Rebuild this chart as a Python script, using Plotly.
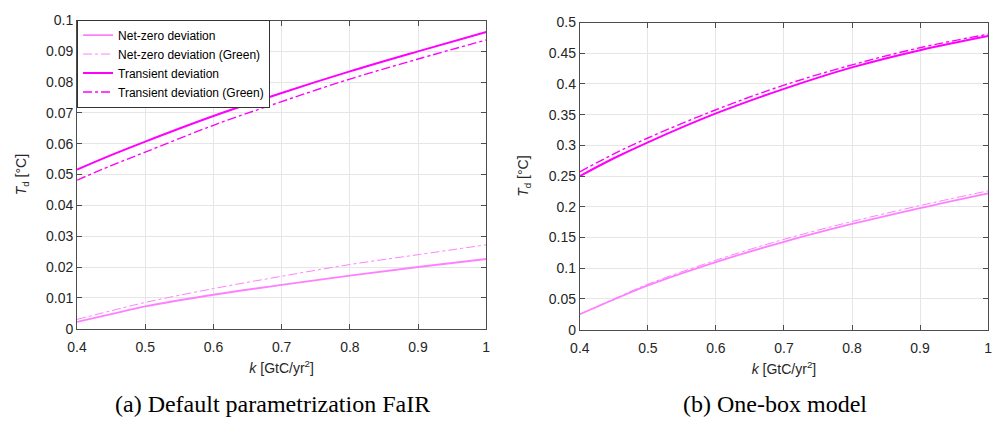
import plotly.graph_objects as go

k = [0.4, 0.45, 0.5, 0.6, 0.7, 0.8, 0.9, 1.0]

# (a) Default parametrization FaIR
a_netzero = [0.0022, 0.0047, 0.0072, 0.0110, 0.0142, 0.0172, 0.0200, 0.0226]
a_netzero_green = [0.0030, 0.0058, 0.0085, 0.0130, 0.0170, 0.0208, 0.0240, 0.0272]
a_transient = [0.0516, 0.0563, 0.0607, 0.0690, 0.0765, 0.0835, 0.0900, 0.0963]
a_transient_green = [0.0482, 0.0529, 0.0573, 0.0660, 0.0737, 0.0810, 0.0875, 0.0937]

# (b) One-box model
b_netzero = [0.025, 0.049, 0.072, 0.110, 0.143, 0.172, 0.198, 0.222]
b_netzero_green = [0.025, 0.050, 0.074, 0.113, 0.147, 0.176, 0.202, 0.226]
b_transient = [0.250, 0.279, 0.305, 0.352, 0.392, 0.427, 0.455, 0.478]
b_transient_green = [0.257, 0.286, 0.312, 0.358, 0.398, 0.431, 0.459, 0.481]

names = ["Net-zero deviation", "Net-zero deviation (Green)",
         "Transient deviation", "Transient deviation (Green)"]
xticks = [0.4, 0.5, 0.6, 0.7, 0.8, 0.9, 1]
xticklabels = ["0.4", "0.5", "0.6", "0.7", "0.8", "0.9", "1"]
a_yticks = [0, 0.01, 0.02, 0.03, 0.04, 0.05, 0.06, 0.07, 0.08, 0.09, 0.1]
a_yticklabels = ["0", "0.01", "0.02", "0.03", "0.04", "0.05", "0.06", "0.07", "0.08", "0.09", "0.1"]
b_yticks = [0, 0.05, 0.1, 0.15, 0.2, 0.25, 0.3, 0.35, 0.4, 0.45, 0.5]
b_yticklabels = ["0", "0.05", "0.1", "0.15", "0.2", "0.25", "0.3", "0.35", "0.4", "0.45", "0.5"]
captions = ["(a) Default parametrization FaIR", "(b) One-box model"]

light = "#FF80FF"
strong = "#FF00FF"
styles = [
    dict(color=light, width=1.8, dash="solid"),
    dict(color=light, width=1.0, dash="dashdot"),
    dict(color=strong, width=2.0, dash="solid"),
    dict(color=strong, width=1.4, dash="dashdot"),
]

fig = go.Figure()
for i, ys in enumerate([a_netzero, a_netzero_green, a_transient, a_transient_green]):
    fig.add_trace(go.Scatter(x=k, y=ys, mode="lines", name=names[i], line=styles[i],
                             line_shape="spline", xaxis="x", yaxis="y", showlegend=True))
for i, ys in enumerate([b_netzero, b_netzero_green, b_transient, b_transient_green]):
    fig.add_trace(go.Scatter(x=k, y=ys, mode="lines", name=names[i], line=styles[i],
                             line_shape="spline", xaxis="x2", yaxis="y2", showlegend=False))

font = dict(family="Liberation Sans, Arial, sans-serif", size=14, color="#262626")
axis_common = dict(showline=True, linecolor="#4D4D4D", linewidth=1, mirror="ticks",
                   ticks="inside", ticklen=5, tickcolor="#4D4D4D",
                   showgrid=True, gridcolor="#E6E6E6", gridwidth=1, zeroline=False,
                   tickfont=font)
title_font = dict(family="Liberation Sans, Arial, sans-serif", size=14, color="#262626")

xt = "<i>k</i> [GtC/yr<sup>2</sup>]"
yt = "<i>T</i><sub>d</sub> [°C]"

fig.update_layout(
    width=997, height=431,
    margin=dict(l=0, r=0, t=0, b=0),
    paper_bgcolor="white", plot_bgcolor="white",
    font=font,
    xaxis=dict(domain=[0.0682, 0.4845], range=[0.4, 1.0], tickvals=xticks, ticktext=xticklabels,
               anchor="y", ticklabelstandoff=6,
               title=dict(text=xt, font=title_font, standoff=8), **axis_common),
    yaxis=dict(domain=[0.2274, 0.9698], range=[0, 0.1], tickvals=a_yticks, ticktext=a_yticklabels,
               anchor="x", title=dict(text=yt, font=title_font, standoff=16), **axis_common),
    xaxis2=dict(domain=[0.5797, 0.995], range=[0.4, 1.0], tickvals=xticks, ticktext=xticklabels,
                anchor="y2", ticklabelstandoff=6,
                title=dict(text=xt, font=title_font, standoff=8), **axis_common),
    yaxis2=dict(domain=[0.225, 0.965], range=[0, 0.5], tickvals=b_yticks, ticktext=b_yticklabels,
                anchor="x2", title=dict(text=yt, font=title_font, standoff=16), **axis_common),
    legend=dict(x=68 / 997, y=1 - 12 / 431, xanchor="left", yanchor="top",
                bgcolor="white", bordercolor="#333333", borderwidth=1,
                font=dict(family="Liberation Sans, Arial, sans-serif", size=12, color="#000000"),
                tracegroupgap=0, itemwidth=30),
    annotations=[
        dict(text=captions[0], x=266 / 997, y=1 - 411 / 431, xref="paper", yref="paper",
             xanchor="center", yanchor="middle",
             showarrow=False, font=dict(family="Liberation Serif, Times New Roman, serif", size=24, color="black")),
        dict(text=captions[1], x=776 / 997, y=1 - 411 / 431, xref="paper", yref="paper",
             xanchor="center", yanchor="middle",
             showarrow=False, font=dict(family="Liberation Serif, Times New Roman, serif", size=24, color="black")),
    ],
)

fig.write_html("out.html")
